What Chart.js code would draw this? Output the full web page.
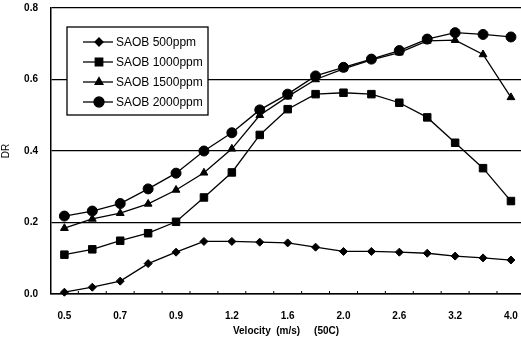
<!DOCTYPE html>
<html>
<head>
<meta charset="utf-8">
<script src="https://cdn.jsdelivr.net/npm/chart.js@4"></script>
<style>
  html, body { margin: 0; padding: 0; background: #fff; }
  #wrap { width: 521px; height: 341px; }
</style>
</head>
<body>
<div id="wrap"><canvas id="chart" width="521" height="341"></canvas></div>
<script>
// velocity categories (only every other one gets a label)
const categories = ['0.5','0.6','0.7','0.8','0.9','1.0','1.2','1.4','1.6','1.8','2.0','2.3','2.6','2.9','3.2','3.6','4.0'];
const shownLabels = ['0.5','0.7','0.9','1.2','1.6','2.0','2.6','3.2','4.0'];

const saob500  = [0.005,0.019,0.036,0.085,0.117,0.147,0.147,0.145,0.143,0.131,0.119,0.119,0.117,0.114,0.106,0.101,0.095];
const saob1000 = [0.110,0.125,0.149,0.170,0.202,0.270,0.340,0.445,0.517,0.559,0.563,0.559,0.535,0.494,0.423,0.352,0.260];
const saob1500 = [0.184,0.210,0.226,0.252,0.291,0.339,0.406,0.500,0.552,0.600,0.630,0.655,0.675,0.708,0.710,0.670,0.550];
const saob2000 = [0.218,0.232,0.253,0.294,0.338,0.400,0.451,0.515,0.559,0.610,0.634,0.657,0.681,0.713,0.731,0.726,0.719];

const yTicks = [0, 0.2, 0.4, 0.6, 0.8];

const ctx = document.getElementById('chart').getContext('2d');

function series(label, data, style, r) {
    return {
        label: label,
        data: data.map((v, i) => ({ x: i, y: v })),
        borderColor: '#000',
        backgroundColor: '#000',
        borderWidth: 1.3,
        pointStyle: style,
        pointRadius: r,
        pointBackgroundColor: '#000',
        pointBorderColor: '#000',
        pointBorderWidth: 1,
        tension: 0,
        fill: false,
        clip: false,
    };
}

// legend box drawn inside the plot
const boxLegend = {
    id: 'boxLegend',
    afterDraw(chart) {
        const c = chart.ctx;
        const x0 = 67, y0 = 27, w = 141, h = 88;
        c.save();
        c.fillStyle = '#fff';
        c.fillRect(x0, y0, w, h);
        c.strokeStyle = '#000';
        c.lineWidth = 1.3;
        c.strokeRect(x0, y0, w, h);
        c.font = '12px "Liberation Sans", Arial, sans-serif';
        c.textBaseline = 'middle';
        chart.data.datasets.forEach((ds, i) => {
            const y = 42 + i * 20;
            c.beginPath();
            c.moveTo(83, y);
            c.lineTo(113, y);
            c.lineWidth = 1.3;
            c.strokeStyle = '#000';
            c.stroke();
            c.fillStyle = '#000';
            Chart.helpers.drawPoint(c, {
                pointStyle: ds.pointStyle,
                radius: ds.pointRadius,
                rotation: 0,
                borderWidth: 1
            }, 99, y);
            c.fillStyle = '#000';
            c.fillText(ds.label, 116, y + 1);
        });
        c.restore();
    }
};

// small inward tick marks along the bottom axis, between the points
const innerTicks = {
    id: 'innerTicks',
    afterDatasetsDraw(chart) {
        const xs = chart.scales.x;
        const c = chart.ctx;
        const bottom = chart.chartArea.bottom;
        c.save();
        c.strokeStyle = '#000';
        c.lineWidth = 1;
        for (let i = 1; i < categories.length; i++) {
            const px = xs.getPixelForValue(i - 0.5);
            c.beginPath();
            c.moveTo(px, bottom);
            c.lineTo(px, bottom - 3);
            c.stroke();
        }
        c.restore();
    }
};

const font = { family: '"Liberation Sans", Arial, sans-serif', size: 10, weight: 'bold' };

const chart = new Chart(ctx, {
    type: 'line',
    data: {
        datasets: [
            series('SAOB 500ppm', saob500, 'rectRot', 4),
            series('SAOB 1000ppm', saob1000, 'rect', 5.3),
            series('SAOB 1500ppm', saob1500, 'triangle', 4.5),
            series('SAOB 2000ppm', saob2000, 'circle', 5),
        ],
    },
    options: {
        responsive: false,
        animation: false,
        layout: { autoPadding: false, padding: { top: 8, right: 0, left: 0, bottom: 0 } },
        plugins: {
            legend: { display: false },
            tooltip: { enabled: false },
        },
        scales: {
            x: {
                type: 'linear',
                min: -0.48,
                max: 16.36,
                afterBuildTicks(s) { s.ticks = shownLabels.map((_, i) => ({ value: i * 2 })); },
                grid: { display: false },
                border: { color: '#000', width: 1.5 },
                ticks: {
                    autoSkip: false,
                    maxRotation: 0,
                    padding: 8,
                    color: '#000',
                    font: font,
                    callback: v => shownLabels[v / 2],
                },
                title: {
                    display: true,
                    text: 'Velocity  (m/s)     (50C)',
                    color: '#000',
                    padding: { top: 2, bottom: 4 },
                    font: font,
                },
                afterFit(s) { s.height = 47; s.paddingLeft = 0; s.paddingRight = 0; },
            },
            y: {
                min: 0,
                max: 0.8,
                afterBuildTicks(s) { s.ticks = yTicks.map(v => ({ value: v })); },
                grid: { color: '#000', lineWidth: 1.3, drawTicks: false },
                border: { color: '#000', width: 1.5 },
                ticks: {
                    padding: 13,
                    color: '#000',
                    font: font,
                    callback: v => v.toFixed(1),
                },
                title: {
                    display: true,
                    text: 'DR',
                    color: '#000',
                    padding: { top: 0, bottom: 0 },
                    font: { family: '"Liberation Sans", Arial, sans-serif', size: 10 },
                },
                afterFit(s) { s.width = 51; s.paddingTop = 0; s.paddingBottom = 0; },
            },
        },
    },
    plugins: [innerTicks, boxLegend],
});
</script>
</body>
</html>
